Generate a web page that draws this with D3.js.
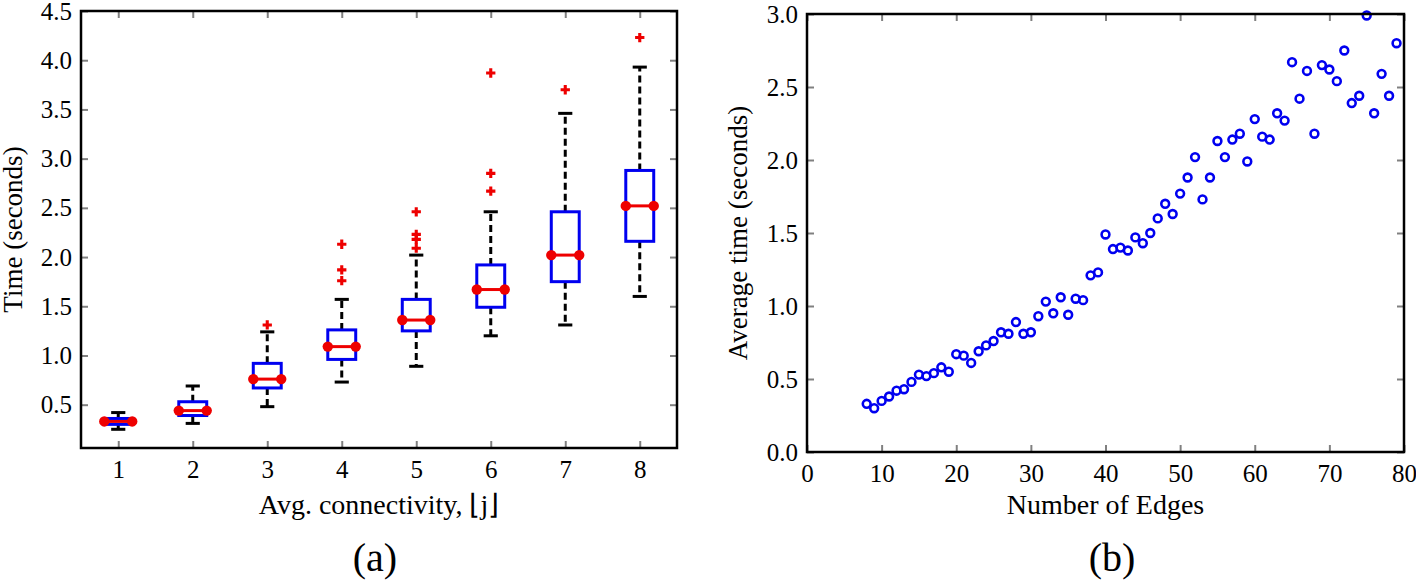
<!DOCTYPE html>
<html>
<head>
<meta charset="utf-8">
<script src="https://cdn.jsdelivr.net/npm/d3@7"></script>
<style>
    body { margin: 0; background: #fff; }
</style>
</head>
<body>
<div id="chart"><svg></svg></div>
<script>

// (a) box plot values
var connectivity = [1, 2, 3, 4, 5, 6, 7, 8];
var whiskerLow  = [0.25, 0.31, 0.48, 0.73, 0.89, 1.20, 1.31, 1.60];
var quart1      = [0.30, 0.39, 0.67, 0.96, 1.25, 1.49, 1.75, 2.16];
var medians     = [0.33, 0.44, 0.76, 1.09, 1.36, 1.67, 2.02, 2.52];
var quart3      = [0.36, 0.53, 0.92, 1.26, 1.57, 1.92, 2.46, 2.88];
var whiskerHigh = [0.42, 0.69, 1.24, 1.57, 2.02, 2.46, 3.46, 3.93];
var outliers    = [[], [], [1.31], [2.13, 1.87, 1.76], [2.46, 2.23, 2.18, 2.09],
                   [3.87, 2.85, 2.67], [3.70], [4.23]];
var boxTicksY = [0.5, 1.0, 1.5, 2.0, 2.5, 3.0, 3.5, 4.0, 4.5];

// (b) scatter values
var edges = [8, 9, 10, 11, 12, 13, 14, 15, 16, 17, 18, 19, 20, 21, 22, 23, 24, 25,
    26, 27, 28, 29, 30, 31, 32, 33, 34, 35, 36, 37, 38, 39, 40, 41, 42, 43, 44, 45,
    46, 47, 48, 49, 50, 51, 52, 53, 54, 55, 56, 57, 58, 59, 60, 61, 62, 63, 64, 65,
    66, 67, 68, 69, 70, 71, 72, 73, 74, 75, 76, 77, 78, 79];
var avgTime = [0.33, 0.30, 0.35, 0.38, 0.42, 0.43, 0.48, 0.53, 0.52, 0.54, 0.58, 0.55,
    0.67, 0.66, 0.61, 0.69, 0.73, 0.76, 0.82, 0.81, 0.89, 0.81, 0.82, 0.93, 1.03, 0.95,
    1.06, 0.94, 1.05, 1.04, 1.21, 1.23, 1.49, 1.39, 1.40, 1.38, 1.47, 1.43, 1.50, 1.60,
    1.70, 1.63, 1.77, 1.88, 2.02, 1.73, 1.88, 2.13, 2.02, 2.14, 2.18, 1.99, 2.28, 2.16,
    2.14, 2.32, 2.27, 2.67, 2.42, 2.61, 2.18, 2.65, 2.62, 2.54, 2.75, 2.39, 2.44, 2.99,
    2.32, 2.59, 2.44, 2.80];
var edgeTicks = [0, 10, 20, 30, 40, 50, 60, 70, 80];
var timeTicks = [0.0, 0.5, 1.0, 1.5, 2.0, 2.5, 3.0];

var blue = "#0000f0", red = "#ee0000";
var serif = "'Liberation Serif'";

var svg = d3.select("#chart svg").attr("width", 1416).attr("height", 581);

function frame(g, width, height) {
    g.append("rect")
        .attr("width", width)
        .attr("height", height)
        .attr("fill", "none")
        .attr("stroke", "#000")
        .attr("stroke-width", 2.5);
}

function axes(g, x, y, xTicks, yTicks, width, height) {
    var fmt = d3.format(".1f");
    g.append("g")
        .attr("transform", "translate(0," + height + ")")
        .call(d3.axisBottom(x).tickValues(xTicks).tickSizeInner(-7).tickSizeOuter(0).tickPadding(12));
    g.append("g")
        .call(d3.axisTop(x).tickValues(xTicks).tickSizeInner(-7).tickSizeOuter(0).tickFormat(""));
    g.append("g")
        .call(d3.axisLeft(y).tickValues(yTicks).tickSizeInner(-7).tickSizeOuter(0).tickPadding(9).tickFormat(fmt));
    g.append("g")
        .attr("transform", "translate(" + width + ",0)")
        .call(d3.axisRight(y).tickValues(yTicks).tickSizeInner(-7).tickSizeOuter(0).tickFormat(""));
    g.selectAll(".domain").remove();
    g.selectAll(".tick line").attr("stroke", "#808080").attr("stroke-width", 2);
    g.selectAll(".tick text")
        .style("font-family", serif)
        .style("font-size", "25px")
        .attr("fill", "#000");
}

function label(g, txt, size) {
    return g.append("text")
        .attr("text-anchor", "middle")
        .style("font-family", serif)
        .style("font-size", size + "px")
        .attr("fill", "#000")
        .text(txt);
}

// ---------- (a) box plot ----------
var marginA = { left: 81, top: 11 },
    widthA = 596,
    heightA = 437;

var gA = svg.append("g").attr("transform", "translate(" + marginA.left + "," + marginA.top + ")");

var xA = d3.scaleLinear().domain([0.5, 8.5]).range([0, widthA]),
    yA = d3.scaleLinear().domain([0.06, 4.5]).range([heightA, 0]);

axes(gA, xA, yA, connectivity, boxTicksY, widthA, heightA);

var boxW = 0.375, capW = 0.19;

var boxes = gA.selectAll(".box")
    .data(connectivity.map(function (c, i) {
        return {
            c: c, lo: whiskerLow[i], q1: quart1[i], med: medians[i],
            q3: quart3[i], hi: whiskerHigh[i], out: outliers[i]
        };
    }))
    .enter().append("g")
    .attr("class", "box");

// dashed whiskers
boxes.selectAll(".whisker")
    .data(function (d) { return [[d.q3, d.hi, d.c], [d.q1, d.lo, d.c]]; })
    .enter().append("line")
    .attr("x1", function (d) { return xA(d[2]); })
    .attr("x2", function (d) { return xA(d[2]); })
    .attr("y1", function (d) { return yA(d[0]); })
    .attr("y2", function (d) { return yA(d[1]); })
    .attr("stroke", "#000")
    .attr("stroke-width", 3)
    .attr("stroke-dasharray", "7,4");

// caps
boxes.selectAll(".cap")
    .data(function (d) { return [[d.hi, d.c], [d.lo, d.c]]; })
    .enter().append("line")
    .attr("x1", function (d) { return xA(d[1] - capW / 2); })
    .attr("x2", function (d) { return xA(d[1] + capW / 2); })
    .attr("y1", function (d) { return yA(d[0]); })
    .attr("y2", function (d) { return yA(d[0]); })
    .attr("stroke", "#000")
    .attr("stroke-width", 3);

boxes.append("rect")
    .attr("x", function (d) { return xA(d.c - boxW / 2); })
    .attr("width", function (d) { return xA(d.c + boxW / 2) - xA(d.c - boxW / 2); })
    .attr("y", function (d) { return yA(d.q3); })
    .attr("height", function (d) { return yA(d.q1) - yA(d.q3); })
    .attr("fill", "none")
    .attr("stroke", blue)
    .attr("stroke-width", 3);

boxes.append("line")
    .attr("x1", function (d) { return xA(d.c - boxW / 2); })
    .attr("x2", function (d) { return xA(d.c + boxW / 2); })
    .attr("y1", function (d) { return yA(d.med); })
    .attr("y2", function (d) { return yA(d.med); })
    .attr("stroke", red)
    .attr("stroke-width", 3);

boxes.selectAll(".dot")
    .data(function (d) { return [[d.c - boxW / 2, d.med], [d.c + boxW / 2, d.med]]; })
    .enter().append("circle")
    .attr("cx", function (d) { return xA(d[0]); })
    .attr("cy", function (d) { return yA(d[1]); })
    .attr("r", 5.2)
    .attr("fill", red);

boxes.selectAll(".flier")
    .data(function (d) { return d.out.map(function (v) { return [d.c, v]; }); })
    .enter().append("path")
    .attr("d", d3.symbol(d3.symbolCross, 48))
    .attr("transform", function (d) { return "translate(" + xA(d[0]) + "," + yA(d[1]) + ")"; })
    .attr("fill", red);

frame(gA, widthA, heightA);

label(gA, "Avg. connectivity, \u230Aj\u230B", 28)
    .attr("x", widthA / 2)
    .attr("y", 503);

label(gA, "Time (seconds)", 27)
    .attr("transform", "translate(-59," + heightA / 2 + ") rotate(-90)");

label(gA, "(a)", 40)
    .attr("x", 375 - marginA.left)
    .attr("y", 560);

// ---------- (b) scatter ----------
var marginB = { left: 807, top: 14 },
    widthB = 597,
    heightB = 438;

var gB = svg.append("g").attr("transform", "translate(" + marginB.left + "," + marginB.top + ")");

var xB = d3.scaleLinear().domain([0, 80]).range([0, widthB]),
    yB = d3.scaleLinear().domain([0, 3]).range([heightB, 0]);

axes(gB, xB, yB, edgeTicks, timeTicks, widthB, heightB);

gB.selectAll(".pt")
    .data(edges.map(function (e, i) { return { e: e, t: avgTime[i] }; }))
    .enter().append("circle")
    .attr("cx", function (d) { return xB(d.e); })
    .attr("cy", function (d) { return yB(d.t); })
    .attr("r", 3.9)
    .attr("fill", "none")
    .attr("stroke", blue)
    .attr("stroke-width", 2.6);

frame(gB, widthB, heightB);

label(gB, "Number of Edges", 28)
    .attr("x", widthB / 2)
    .attr("y", 500);

label(gB, "Average time (seconds)", 27)
    .attr("transform", "translate(-60," + heightB / 2 + ") rotate(-90)");

label(gB, "(b)", 40)
    .attr("x", 1112 - marginB.left)
    .attr("y", 557);

</script>
</body>
</html>
